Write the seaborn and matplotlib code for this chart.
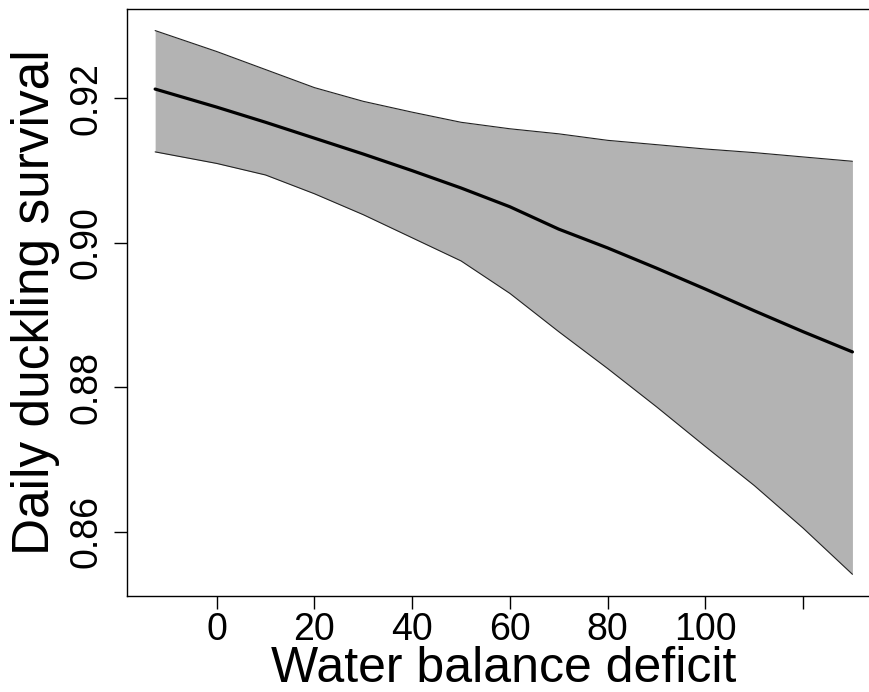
import numpy as np
import pandas as pd
import matplotlib
matplotlib.use("Agg")
import matplotlib.pyplot as plt
import seaborn as sns

# Predicted daily duckling survival across water balance deficit
deficit = [-12.6, 0, 10, 20, 30, 40, 50, 60, 70, 80, 90, 100, 110, 120, 130.1]
survival = [0.9213, 0.9188, 0.9167, 0.9145, 0.9123, 0.9100, 0.9076, 0.9050,
            0.9019, 0.8993, 0.8965, 0.8936, 0.8906, 0.8877, 0.8849]
ci_lower = [0.9126, 0.9110, 0.9094, 0.9068, 0.9039, 0.9007, 0.8975, 0.8930,
            0.8877, 0.8826, 0.8773, 0.8718, 0.8664, 0.8605, 0.8541]
ci_upper = [0.9294, 0.9265, 0.9240, 0.9215, 0.9196, 0.9181, 0.9167, 0.9158,
            0.9151, 0.9142, 0.9136, 0.9130, 0.9125, 0.9119, 0.9113]

x_ticks = [0, 20, 40, 60, 80, 100, 120]
x_tick_labels = ["0", "20", "40", "60", "80", "100", ""]
y_ticks = [0.86, 0.88, 0.90, 0.92]
y_tick_labels = ["0.86", "0.88", "0.90", "0.92"]

df = pd.DataFrame({"deficit": deficit, "survival": survival,
                   "lower": ci_lower, "upper": ci_upper})

sns.set_style("ticks")
plt.rcParams["font.family"] = ["Liberation Sans", "DejaVu Sans"]
plt.rcParams["text.color"] = "black"
plt.rcParams["axes.labelcolor"] = "black"

fig = plt.figure(figsize=(8.69, 6.92), dpi=100)
ax = fig.add_axes([0.1467, 0.1392, 0.866, 0.8474])

ax.fill_between(df["deficit"], df["lower"], df["upper"],
                color="#b3b3b3", linewidth=0, zorder=1)
sns.lineplot(data=df, x="deficit", y="lower", ax=ax, color="#222222",
             linewidth=0.8, zorder=2)
sns.lineplot(data=df, x="deficit", y="upper", ax=ax, color="#222222",
             linewidth=0.8, zorder=2)
sns.lineplot(data=df, x="deficit", y="survival", ax=ax, color="black",
             linewidth=2.3, zorder=3)

ax.set_xlim(-18.26, 135.75)
ax.set_ylim(0.85114, 0.93235)

ax.set_xticks(x_ticks)
ax.set_xticklabels(x_tick_labels)
ax.set_yticks(y_ticks)
ax.set_yticklabels(y_tick_labels, rotation=90, va="center")

ax.tick_params(axis="both", which="major", length=9.5, width=1,
               color="black", labelsize=27, labelcolor="black")
ax.tick_params(axis="x", pad=2)
ax.tick_params(axis="y", pad=7)

for side in ["left", "bottom", "top", "right"]:
    ax.spines[side].set_visible(True)
    ax.spines[side].set_color("black")
    ax.spines[side].set_linewidth(1)

ax.set_xlabel("Water balance deficit", fontsize=36, labelpad=-1.5)
ax.set_ylabel("Daily duckling survival", fontsize=37, labelpad=6)

fig.savefig("out.png", dpi=100)
